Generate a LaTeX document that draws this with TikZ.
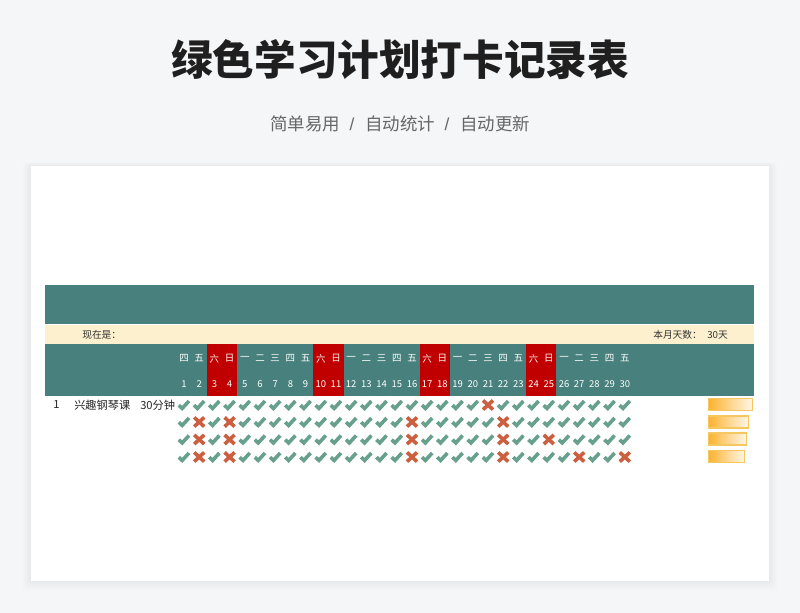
\documentclass[tikz,border=0pt]{standalone}
\usepackage{fontspec}
\setmainfont{Liberation Sans}
\newfontfamily\cjk{Noto Sans CJK SC}
\newfontfamily\cjkblack{Noto Sans CJK SC Black}
\definecolor{pagebg}{HTML}{F5F6F8}
\definecolor{tealbar}{HTML}{47807C}
\definecolor{creambar}{HTML}{FDF0CE}
\definecolor{redcol}{HTML}{C00000}
\definecolor{okgreen}{HTML}{68A08E}
\definecolor{missred}{HTML}{CB5F3F}
\definecolor{barline}{HTML}{F6C660}
\definecolor{barfill}{HTML}{FCB22E}
\tikzset{
  okmark/.style={draw=okgreen,line width=2.7pt,line join=miter},
  missmark/.style={draw=missred,line width=2.7pt},
  headtext/.style={text=white,font=\fontsize{7.1}{8}\selectfont\cjk,inner sep=0pt},
  cardtext/.style={text=black!80,font=\fontsize{7.3}{8}\selectfont\cjk,inner sep=0pt},
  rowtext/.style={text=black!85,font=\fontsize{8.4}{9}\selectfont\cjk,inner sep=0pt},
  progbar/.style={draw=barline,line width=1.2pt,left color=barfill,right color=barfill!12,middle color=barfill!55,
    inner sep=0pt,minimum height=9,anchor=north west}
}
\begin{document}
\begin{tikzpicture}[x=0.75pt,y=-0.75pt]
  \fill[pagebg] (0,0) rectangle (800,613);
  \useasboundingbox (0,0) rectangle (800,613);
  \foreach \s in {1,...,6}
    \fill[black,opacity=0.008,rounded corners=3pt] (31-\s*1.4,166-\s*0.6) rectangle (769+\s*1.4,581+\s*1.6);
  \fill[white] (31,166) rectangle (769,581);
  \node[text=black!88,inner sep=0pt,font=\fontsize{31.2}{34}\selectfont\cjkblack] (title) at (400,60) {绿色学习计划打卡记录表};
  \begin{scope}[every node/.style={text=black!60,inner sep=0pt,font=\fontsize{13.1}{15}\selectfont\cjk}]
  \node (subA) at (305,124) {简单易用};
  \node[font=\fontsize{13}{15}\selectfont] (slashA) at (352,124) {/};
  \node (subB) at (400,124) {自动统计};
  \node[font=\fontsize{13}{15}\selectfont] (slashB) at (447,124) {/};
  \node (subC) at (495,124) {自动更新};
  \end{scope}
  \fill[tealbar] (45,285) rectangle (754,324);
  \fill[creambar] (45,325) rectangle (754,344);
  \fill[tealbar] (45,344) rectangle (754,396);
  \foreach \c in {3,10,17,24}
    \fill[redcol] (184+\c*15.2-22.8,344) rectangle (184+\c*15.2+7.6,396);
  \node[cardtext,anchor=west] (now) at (82,335) {现在是：};
  \node[cardtext,anchor=west] (monthdays) at (653,335) {本月天数：};
  \node[cardtext,anchor=west] (monthnum) at (707,335) {30天};
  \foreach \d/\w in {1/四,2/五,3/六,4/日,5/一,6/二,7/三,8/四,9/五,10/六,11/日,12/一,13/二,14/三,15/四,
    16/五,17/六,18/日,19/一,20/二,21/三,22/四,23/五,24/六,25/日,26/一,27/二,28/三,29/四,30/五} {
    \node[headtext] (week\d) at (184+\d*15.2-15.2,358.5) {\w};
    \node[headtext] (day\d) at (184+\d*15.2-15.2,384.5) {\d};
  }
  \node[rowtext,anchor=west] (rownum) at (53,405) {1};
  \node[rowtext,anchor=west] (course) at (74,405) {兴趣钢琴课};
  \node[rowtext,anchor=west] (minutes) at (140,405) {30分钟};
  \foreach \y/\oks in {405/{1,2,...,20,22,23,...,30},
    422/{1,3,5,6,...,15,17,18,...,21,23,24,...,30},
    439.5/{1,3,5,6,...,15,17,18,...,21,23,24,26,27,...,30},
    457/{1,3,5,6,...,15,17,18,...,21,23,24,25,26,28,29}}
    \foreach \d in \oks
      \draw[okmark] (184+\d*15.2-15.2-5.2,\y+0.2) -- ++(3.4,3.2) -- ++(6.8,-7.4);
  \foreach \y/\misses in {405/{21},422/{2,4,16,22},439.5/{2,4,16,22,25},457/{2,4,16,22,27,30}}
    \foreach \d in \misses {
      \draw[missmark] (184+\d*15.2-15.2-5,\y-4.6) -- ++(10,9.2);
      \draw[missmark] (184+\d*15.2-15.2-5,\y+4.6) -- ++(10,-9.2);
    }
  \node[progbar,minimum width=33.0] (barA) at (707.5,397.5) {};
  \node[progbar,minimum width=30.0] (barB) at (707.5,415) {};
  \node[progbar,minimum width=28.5] (barC) at (707.5,432) {};
  \node[progbar,minimum width=27.2] (barD) at (707.5,449.5) {};
\end{tikzpicture}
\end{document}
